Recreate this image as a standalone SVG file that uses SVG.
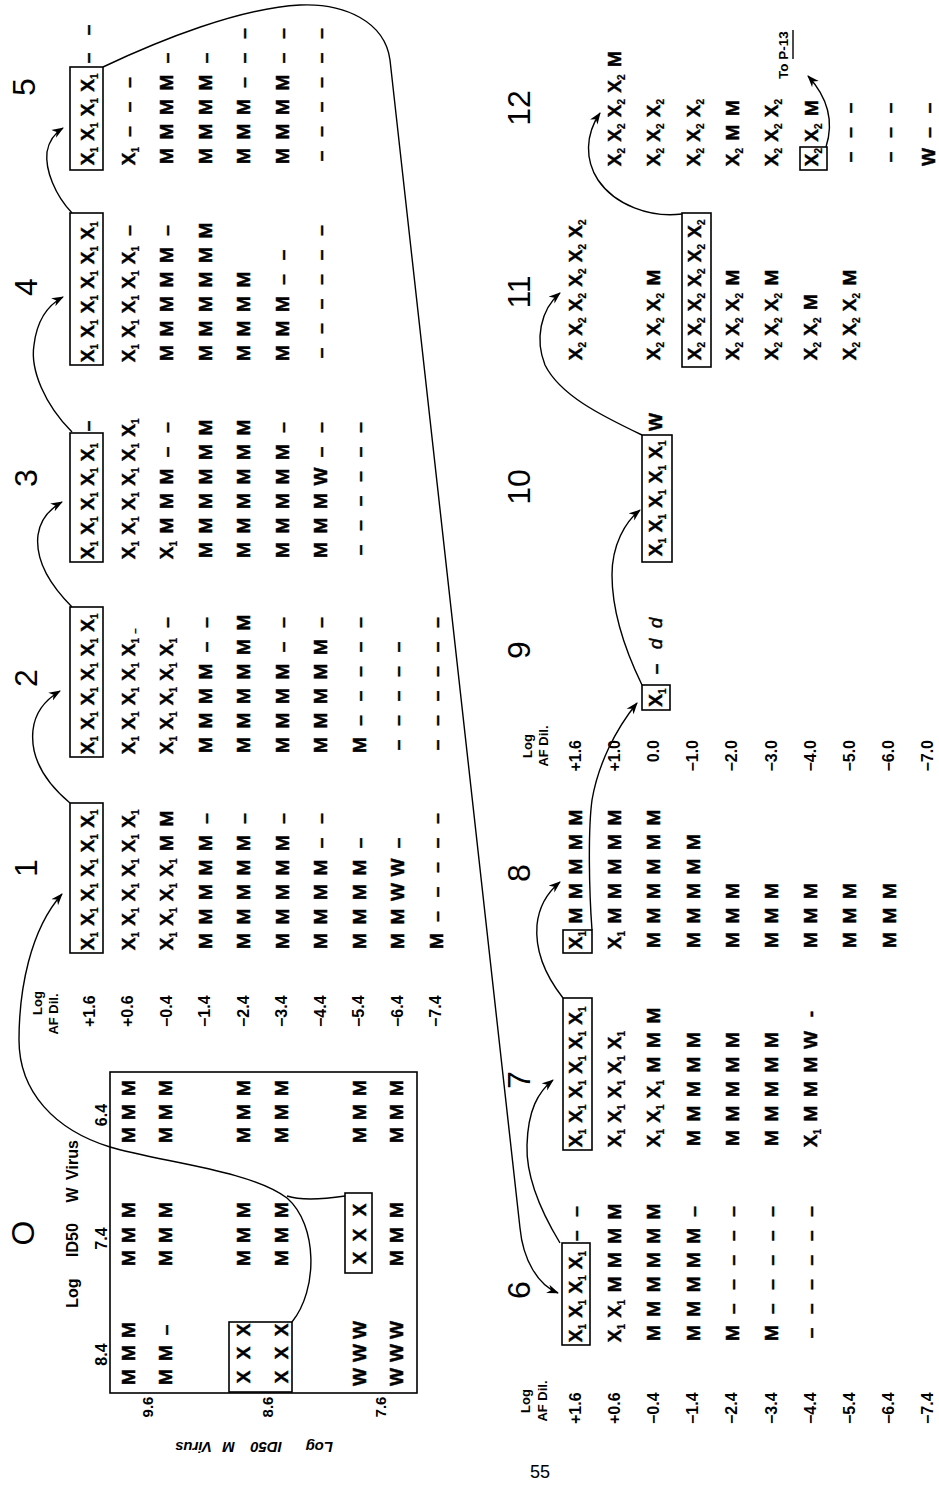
<svg xmlns="http://www.w3.org/2000/svg" width="939" height="1490" viewBox="0 0 939 1490">
<defs>
<marker id="ah" viewBox="0 0 12 10" refX="11" refY="5" markerWidth="12" markerHeight="10" markerUnits="userSpaceOnUse" orient="auto">
<path d="M0,0.5 L12,5 L0,9.5 L3.5,5 z" fill="#000"/>
</marker>
<style>
text{font-family:"Liberation Sans",Arial,sans-serif;fill:#000}
.t{font-size:19px;font-weight:bold;text-anchor:middle;stroke:#000;stroke-width:0.45}
.s{font-size:10px;baseline-shift:-4px;stroke-width:0.2}
.l{font-size:16px;font-weight:bold}
.m{font-size:13px;font-weight:bold;text-anchor:middle}
.m15{font-size:15px}
.m16{font-size:16px}
.h{font-size:32px;text-anchor:middle}
.d{font-weight:normal;font-style:italic}
.b{fill:none;stroke:#000;stroke-width:1.6}
.c{fill:none;stroke:#000;stroke-width:1.4}
.a{marker-end:url(#ah)}
</style>
</defs>
<rect width="939" height="1490" fill="#fff"/>

<!-- Passage 0 -->
<g id="p0" transform="matrix(0,-1,1,0,0,1490)">
<text class="h" x="257" y="34">O</text>
<text class="m m16" y="78"><tspan x="197">Log</tspan><tspan x="250">ID50</tspan><tspan x="295">W</tspan><tspan x="330">Virus</tspan></text>
<text class="m m16" x="135.5" y="107">8.4</text>
<text class="m m16" x="251.5" y="107">7.4</text>
<text class="m m16" x="375" y="107">6.4</text>
<rect class="b" x="97" y="110" width="321" height="307"/>
<rect class="b" x="98" y="229" width="70" height="63"/>
<rect class="b" x="217" y="345" width="80" height="27"/>
<text class="t" y="134.5"><tspan x="113">M</tspan><tspan x="137">M</tspan><tspan x="160">M</tspan><tspan x="232">M</tspan><tspan x="255">M</tspan><tspan x="280">M</tspan><tspan x="355">M</tspan><tspan x="378">M</tspan><tspan x="402">M</tspan></text>
<text class="t" y="171.5"><tspan x="113">M</tspan><tspan x="137">M</tspan><tspan x="160">–</tspan><tspan x="232">M</tspan><tspan x="255">M</tspan><tspan x="280">M</tspan><tspan x="355">M</tspan><tspan x="378">M</tspan><tspan x="402">M</tspan></text>
<text class="t" y="250"><tspan x="113">X</tspan><tspan x="137">X</tspan><tspan x="160">X</tspan><tspan x="232">M</tspan><tspan x="255">M</tspan><tspan x="280">M</tspan><tspan x="355">M</tspan><tspan x="378">M</tspan><tspan x="402">M</tspan></text>
<text class="t" y="288"><tspan x="113">X</tspan><tspan x="137">X</tspan><tspan x="160">X</tspan><tspan x="232">M</tspan><tspan x="255">M</tspan><tspan x="280">M</tspan><tspan x="355">M</tspan><tspan x="378">M</tspan><tspan x="402">M</tspan></text>
<text class="t" y="366"><tspan x="113">W</tspan><tspan x="137">W</tspan><tspan x="160">W</tspan><tspan x="232">X</tspan><tspan x="255">X</tspan><tspan x="280">X</tspan><tspan x="355">M</tspan><tspan x="378">M</tspan><tspan x="402">M</tspan></text>
<text class="t" y="403"><tspan x="113">W</tspan><tspan x="137">W</tspan><tspan x="160">W</tspan><tspan x="232">M</tspan><tspan x="255">M</tspan><tspan x="280">M</tspan><tspan x="355">M</tspan><tspan x="378">M</tspan><tspan x="402">M</tspan></text>
<text class="m m15" x="83" y="153">9.6</text>
<text class="m m15" x="83" y="273">8.6</text>
<text class="m m15" x="83" y="386">7.6</text>
<text class="m m15" style="font-style:italic;text-anchor:start" transform="translate(43,252) rotate(-90)" y="5"><tspan x="-81">Log</tspan><tspan x="-30">ID50</tspan><tspan x="17">M</tspan><tspan x="40">Virus</tspan></text>
</g>

<!-- Top dilution axis -->
<g id="axisTop" transform="matrix(0,-1,1,0,0,1490)">
<text class="m" x="487" y="42">Log</text>
<text class="m" x="476" y="58">AF Dil.</text>
<text class="l" x="463" y="94.5">+1.6</text>
<text class="l" x="463" y="133">+0.6</text>
<text class="l" x="463" y="171.5">−0.4</text>
<text class="l" x="463" y="210">−1.4</text>
<text class="l" x="463" y="248.5">−2.4</text>
<text class="l" x="463" y="287">−3.4</text>
<text class="l" x="463" y="325.5">−4.4</text>
<text class="l" x="463" y="364">−5.4</text>
<text class="l" x="463" y="402.5">−6.4</text>
<text class="l" x="463" y="441">−7.4</text>
</g>

<!-- Passage 1 -->
<g id="p1" transform="matrix(0,-1,1,0,0,1490)">
<text class="h" x="622" y="36.5">1</text>
<rect class="b" x="537" y="70" width="150" height="33"/>
<text class="t" y="94"><tspan x="549">X<tspan class="s">1</tspan></tspan><tspan x="573.5">X<tspan class="s">1</tspan></tspan><tspan x="598">X<tspan class="s">1</tspan></tspan><tspan x="622.5">X<tspan class="s">1</tspan></tspan><tspan x="647">X<tspan class="s">1</tspan></tspan><tspan x="671.5">X<tspan class="s">1</tspan></tspan></text>
<text class="t" y="134.5"><tspan x="549">X<tspan class="s">1</tspan></tspan><tspan x="573.5">X<tspan class="s">1</tspan></tspan><tspan x="598">X<tspan class="s">1</tspan></tspan><tspan x="622.5">X<tspan class="s">1</tspan></tspan><tspan x="647">X<tspan class="s">1</tspan></tspan><tspan x="671.5">X<tspan class="s">1</tspan></tspan></text>
<text class="t" y="173"><tspan x="549">X<tspan class="s">1</tspan></tspan><tspan x="573.5">X<tspan class="s">1</tspan></tspan><tspan x="598">X<tspan class="s">1</tspan></tspan><tspan x="622.5">X<tspan class="s">1</tspan></tspan><tspan x="647">M</tspan><tspan x="671.5">M</tspan></text>
<text class="t" y="211.5"><tspan x="549">M</tspan><tspan x="573.5">M</tspan><tspan x="598">M</tspan><tspan x="622.5">M</tspan><tspan x="647">M</tspan><tspan x="671.5">–</tspan></text>
<text class="t" y="250"><tspan x="549">M</tspan><tspan x="573.5">M</tspan><tspan x="598">M</tspan><tspan x="622.5">M</tspan><tspan x="647">M</tspan><tspan x="671.5">–</tspan></text>
<text class="t" y="288.5"><tspan x="549">M</tspan><tspan x="573.5">M</tspan><tspan x="598">M</tspan><tspan x="622.5">M</tspan><tspan x="647">M</tspan><tspan x="671.5">–</tspan></text>
<text class="t" y="327"><tspan x="549">M</tspan><tspan x="573.5">M</tspan><tspan x="598">M</tspan><tspan x="622.5">M</tspan><tspan x="647">–</tspan><tspan x="671.5">–</tspan></text>
<text class="t" y="365.5"><tspan x="549">M</tspan><tspan x="573.5">M</tspan><tspan x="598">M</tspan><tspan x="622.5">M</tspan><tspan x="647">–</tspan></text>
<text class="t" y="404"><tspan x="549">M</tspan><tspan x="573.5">M</tspan><tspan x="598">W</tspan><tspan x="622.5">W</tspan><tspan x="647">–</tspan></text>
<text class="t" y="442.5"><tspan x="549">M</tspan><tspan x="573.5">–</tspan><tspan x="598">–</tspan><tspan x="622.5">–</tspan><tspan x="647">–</tspan><tspan x="671.5">–</tspan></text>
</g>

<!-- Passage 2 -->
<g id="p2" transform="matrix(0,-1,1,0,0,1490)">
<text class="h" x="812" y="36.5">2</text>
<rect class="b" x="733" y="70" width="150" height="33"/>
<text class="t" y="94"><tspan x="745">X<tspan class="s">1</tspan></tspan><tspan x="769.5">X<tspan class="s">1</tspan></tspan><tspan x="794">X<tspan class="s">1</tspan></tspan><tspan x="818.5">X<tspan class="s">1</tspan></tspan><tspan x="843">X<tspan class="s">1</tspan></tspan><tspan x="867.5">X<tspan class="s">1</tspan></tspan></text>
<text class="t" y="134.5"><tspan x="745">X<tspan class="s">1</tspan></tspan><tspan x="769.5">X<tspan class="s">1</tspan></tspan><tspan x="794">X<tspan class="s">1</tspan></tspan><tspan x="818.5">X<tspan class="s">1</tspan></tspan><tspan x="843">X<tspan class="s">1</tspan></tspan><tspan x="859" class="s">–</tspan></text>
<text class="t" y="173"><tspan x="745">X<tspan class="s">1</tspan></tspan><tspan x="769.5">X<tspan class="s">1</tspan></tspan><tspan x="794">X<tspan class="s">1</tspan></tspan><tspan x="818.5">X<tspan class="s">1</tspan></tspan><tspan x="843">X<tspan class="s">1</tspan></tspan><tspan x="867.5">–</tspan></text>
<text class="t" y="211.5"><tspan x="745">M</tspan><tspan x="769.5">M</tspan><tspan x="794">M</tspan><tspan x="818.5">M</tspan><tspan x="843">–</tspan><tspan x="867.5">–</tspan></text>
<text class="t" y="250"><tspan x="745">M</tspan><tspan x="769.5">M</tspan><tspan x="794">M</tspan><tspan x="818.5">M</tspan><tspan x="843">M</tspan><tspan x="867.5">M</tspan></text>
<text class="t" y="288.5"><tspan x="745">M</tspan><tspan x="769.5">M</tspan><tspan x="794">M</tspan><tspan x="818.5">M</tspan><tspan x="843">–</tspan><tspan x="867.5">–</tspan></text>
<text class="t" y="327"><tspan x="745">M</tspan><tspan x="769.5">M</tspan><tspan x="794">M</tspan><tspan x="818.5">M</tspan><tspan x="843">M</tspan><tspan x="867.5">–</tspan></text>
<text class="t" y="365.5"><tspan x="745">M</tspan><tspan x="769.5">–</tspan><tspan x="794">–</tspan><tspan x="818.5">–</tspan><tspan x="843">–</tspan><tspan x="867.5">–</tspan></text>
<text class="t" y="404"><tspan x="745">–</tspan><tspan x="769.5">–</tspan><tspan x="794">–</tspan><tspan x="818.5">–</tspan><tspan x="843">–</tspan></text>
<text class="t" y="442.5"><tspan x="745">–</tspan><tspan x="769.5">–</tspan><tspan x="794">–</tspan><tspan x="818.5">–</tspan><tspan x="843">–</tspan><tspan x="867.5">–</tspan></text>
</g>

<!-- Passage 3 -->
<g id="p3" transform="matrix(0,-1,1,0,0,1490)">
<text class="h" x="1012" y="36.5">3</text>
<rect class="b" x="928" y="70" width="129" height="33"/>
<text class="t" y="94"><tspan x="940">X<tspan class="s">1</tspan></tspan><tspan x="964.5">X<tspan class="s">1</tspan></tspan><tspan x="989">X<tspan class="s">1</tspan></tspan><tspan x="1013.5">X<tspan class="s">1</tspan></tspan><tspan x="1038">X<tspan class="s">1</tspan></tspan><tspan x="1064">–</tspan></text>
<text class="t" y="134.5"><tspan x="940">X<tspan class="s">1</tspan></tspan><tspan x="964.5">X<tspan class="s">1</tspan></tspan><tspan x="989">X<tspan class="s">1</tspan></tspan><tspan x="1013.5">X<tspan class="s">1</tspan></tspan><tspan x="1038">X<tspan class="s">1</tspan></tspan><tspan x="1062.5">X<tspan class="s">1</tspan></tspan></text>
<text class="t" y="173"><tspan x="940">X<tspan class="s">1</tspan></tspan><tspan x="964.5">M</tspan><tspan x="989">M</tspan><tspan x="1013.5">M</tspan><tspan x="1038">–</tspan><tspan x="1062.5">–</tspan></text>
<text class="t" y="211.5"><tspan x="940">M</tspan><tspan x="964.5">M</tspan><tspan x="989">M</tspan><tspan x="1013.5">M</tspan><tspan x="1038">M</tspan><tspan x="1062.5">M</tspan></text>
<text class="t" y="250"><tspan x="940">M</tspan><tspan x="964.5">M</tspan><tspan x="989">M</tspan><tspan x="1013.5">M</tspan><tspan x="1038">M</tspan><tspan x="1062.5">M</tspan></text>
<text class="t" y="288.5"><tspan x="940">M</tspan><tspan x="964.5">M</tspan><tspan x="989">M</tspan><tspan x="1013.5">M</tspan><tspan x="1038">M</tspan><tspan x="1062.5">–</tspan></text>
<text class="t" y="327"><tspan x="940">M</tspan><tspan x="964.5">M</tspan><tspan x="989">M</tspan><tspan x="1013.5">W</tspan><tspan x="1038">–</tspan><tspan x="1062.5">–</tspan></text>
<text class="t" y="365.5"><tspan x="940">–</tspan><tspan x="964.5">–</tspan><tspan x="989">–</tspan><tspan x="1013.5">–</tspan><tspan x="1038">–</tspan><tspan x="1062.5">–</tspan></text>
</g>

<!-- Passage 4 -->
<g id="p4" transform="matrix(0,-1,1,0,0,1490)">
<text class="h" x="1203" y="36.5">4</text>
<rect class="b" x="1125" y="70" width="152" height="33"/>
<text class="t" y="94"><tspan x="1137">X<tspan class="s">1</tspan></tspan><tspan x="1161.5">X<tspan class="s">1</tspan></tspan><tspan x="1186">X<tspan class="s">1</tspan></tspan><tspan x="1210.5">X<tspan class="s">1</tspan></tspan><tspan x="1235">X<tspan class="s">1</tspan></tspan><tspan x="1259.5">X<tspan class="s">1</tspan></tspan></text>
<text class="t" y="134.5"><tspan x="1137">X<tspan class="s">1</tspan></tspan><tspan x="1161.5">X<tspan class="s">1</tspan></tspan><tspan x="1186">X<tspan class="s">1</tspan></tspan><tspan x="1210.5">X<tspan class="s">1</tspan></tspan><tspan x="1235">X<tspan class="s">1</tspan></tspan><tspan x="1259.5">–</tspan></text>
<text class="t" y="173"><tspan x="1137">M</tspan><tspan x="1161.5">M</tspan><tspan x="1186">M</tspan><tspan x="1210.5">M</tspan><tspan x="1235">M</tspan><tspan x="1259.5">–</tspan></text>
<text class="t" y="211.5"><tspan x="1137">M</tspan><tspan x="1161.5">M</tspan><tspan x="1186">M</tspan><tspan x="1210.5">M</tspan><tspan x="1235">M</tspan><tspan x="1259.5">M</tspan></text>
<text class="t" y="250"><tspan x="1137">M</tspan><tspan x="1161.5">M</tspan><tspan x="1186">M</tspan><tspan x="1210.5">M</tspan></text>
<text class="t" y="288.5"><tspan x="1137">M</tspan><tspan x="1161.5">M</tspan><tspan x="1186">M</tspan><tspan x="1210.5">–</tspan><tspan x="1235">–</tspan></text>
<text class="t" y="327"><tspan x="1137">–</tspan><tspan x="1161.5">–</tspan><tspan x="1186">–</tspan><tspan x="1210.5">–</tspan><tspan x="1235">–</tspan><tspan x="1259.5">–</tspan></text>
</g>

<!-- Passage 5 -->
<g id="p5" transform="matrix(0,-1,1,0,0,1490)">
<text class="h" x="1403" y="35">5</text>
<rect class="b" x="1320" y="70" width="103" height="33"/>
<text class="t" y="94"><tspan x="1334">X<tspan class="s">1</tspan></tspan><tspan x="1358.5">X<tspan class="s">1</tspan></tspan><tspan x="1383">X<tspan class="s">1</tspan></tspan><tspan x="1407.5">X<tspan class="s">1</tspan></tspan><tspan x="1432">–</tspan><tspan x="1460">–</tspan></text>
<text class="t" y="134.5"><tspan x="1334">X<tspan class="s">1</tspan></tspan><tspan x="1358.5">–</tspan><tspan x="1383">–</tspan><tspan x="1407.5">–</tspan></text>
<text class="t" y="173"><tspan x="1334">M</tspan><tspan x="1358.5">M</tspan><tspan x="1383">M</tspan><tspan x="1407.5">M</tspan><tspan x="1432">–</tspan></text>
<text class="t" y="211.5"><tspan x="1334">M</tspan><tspan x="1358.5">M</tspan><tspan x="1383">M</tspan><tspan x="1407.5">M</tspan><tspan x="1432">–</tspan></text>
<text class="t" y="250"><tspan x="1334">M</tspan><tspan x="1358.5">M</tspan><tspan x="1383">M</tspan><tspan x="1407.5">–</tspan><tspan x="1432">–</tspan><tspan x="1456.5">–</tspan></text>
<text class="t" y="288.5"><tspan x="1334">M</tspan><tspan x="1358.5">M</tspan><tspan x="1383">M</tspan><tspan x="1407.5">M</tspan><tspan x="1432">–</tspan><tspan x="1456.5">–</tspan></text>
<text class="t" y="327"><tspan x="1334">–</tspan><tspan x="1358.5">–</tspan><tspan x="1383">–</tspan><tspan x="1407.5">–</tspan><tspan x="1432">–</tspan><tspan x="1456.5">–</tspan></text>
</g>

<!-- Bottom-left dilution axis -->
<g id="axisBottomLeft" transform="matrix(0,-1,1,0,0,1490)">
<text class="m" x="89" y="530">Log</text>
<text class="m" x="89" y="547">AF Dil.</text>
<text class="l" x="66" y="580.5">+1.6</text>
<text class="l" x="66" y="619.7">+0.6</text>
<text class="l" x="66" y="658.9">−0.4</text>
<text class="l" x="66" y="698.1">−1.4</text>
<text class="l" x="66" y="737.3">−2.4</text>
<text class="l" x="66" y="776.5">−3.4</text>
<text class="l" x="66" y="815.7">−4.4</text>
<text class="l" x="66" y="854.9">−5.4</text>
<text class="l" x="66" y="894.1">−6.4</text>
<text class="l" x="66" y="933.3">−7.4</text>
</g>

<!-- Passage 6 -->
<g id="p6" transform="matrix(0,-1,1,0,0,1490)">
<text class="h" x="200" y="529.5">6</text>
<rect class="b" x="145" y="562" width="102" height="28"/>
<text class="t" y="582"><tspan x="157">X<tspan class="s">1</tspan></tspan><tspan x="181.3">X<tspan class="s">1</tspan></tspan><tspan x="205.6">X<tspan class="s">1</tspan></tspan><tspan x="229.9">X<tspan class="s">1</tspan></tspan><tspan x="254.2">–</tspan><tspan x="278.5">–</tspan></text>
<text class="t" y="621.2"><tspan x="157">X<tspan class="s">1</tspan></tspan><tspan x="181.3">X<tspan class="s">1</tspan></tspan><tspan x="205.6">M</tspan><tspan x="229.9">M</tspan><tspan x="254.2">M</tspan><tspan x="278.5">M</tspan></text>
<text class="t" y="660.4"><tspan x="157">M</tspan><tspan x="181.3">M</tspan><tspan x="205.6">M</tspan><tspan x="229.9">M</tspan><tspan x="254.2">M</tspan><tspan x="278.5">M</tspan></text>
<text class="t" y="699.6"><tspan x="157">M</tspan><tspan x="181.3">M</tspan><tspan x="205.6">M</tspan><tspan x="229.9">M</tspan><tspan x="254.2">M</tspan><tspan x="278.5">–</tspan></text>
<text class="t" y="738.8"><tspan x="157">M</tspan><tspan x="181.3">–</tspan><tspan x="205.6">–</tspan><tspan x="229.9">–</tspan><tspan x="254.2">–</tspan><tspan x="278.5">–</tspan></text>
<text class="t" y="778"><tspan x="157">M</tspan><tspan x="181.3">–</tspan><tspan x="205.6">–</tspan><tspan x="229.9">–</tspan><tspan x="254.2">–</tspan><tspan x="278.5">–</tspan></text>
<text class="t" y="817.2"><tspan x="157">–</tspan><tspan x="181.3">–</tspan><tspan x="205.6">–</tspan><tspan x="229.9">–</tspan><tspan x="254.2">–</tspan><tspan x="278.5">–</tspan></text>
</g>

<!-- Passage 7 -->
<g id="p7" transform="matrix(0,-1,1,0,0,1490)">
<text class="h" x="410" y="529.5">7</text>
<rect class="b" x="340" y="563" width="152" height="29"/>
<text class="t" y="582"><tspan x="352">X<tspan class="s">1</tspan></tspan><tspan x="376.5">X<tspan class="s">1</tspan></tspan><tspan x="401">X<tspan class="s">1</tspan></tspan><tspan x="425.5">X<tspan class="s">1</tspan></tspan><tspan x="450">X<tspan class="s">1</tspan></tspan><tspan x="474.5">X<tspan class="s">1</tspan></tspan></text>
<text class="t" y="621.2"><tspan x="352">X<tspan class="s">1</tspan></tspan><tspan x="376.5">X<tspan class="s">1</tspan></tspan><tspan x="401">X<tspan class="s">1</tspan></tspan><tspan x="425.5">X<tspan class="s">1</tspan></tspan><tspan x="450">X<tspan class="s">1</tspan></tspan></text>
<text class="t" y="660.4"><tspan x="352">X<tspan class="s">1</tspan></tspan><tspan x="376.5">X<tspan class="s">1</tspan></tspan><tspan x="401">X<tspan class="s">1</tspan></tspan><tspan x="425.5">M</tspan><tspan x="450">M</tspan><tspan x="474.5">M</tspan></text>
<text class="t" y="699.6"><tspan x="352">M</tspan><tspan x="376.5">M</tspan><tspan x="401">M</tspan><tspan x="425.5">M</tspan><tspan x="450">M</tspan></text>
<text class="t" y="738.8"><tspan x="352">M</tspan><tspan x="376.5">M</tspan><tspan x="401">M</tspan><tspan x="425.5">M</tspan><tspan x="450">M</tspan></text>
<text class="t" y="778"><tspan x="352">M</tspan><tspan x="376.5">M</tspan><tspan x="401">M</tspan><tspan x="425.5">M</tspan><tspan x="450">M</tspan></text>
<text class="t" y="817.2"><tspan x="352">X<tspan class="s">1</tspan></tspan><tspan x="376.5">M</tspan><tspan x="401">M</tspan><tspan x="425.5">M</tspan><tspan x="450">W</tspan><tspan x="476">-</tspan></text>
</g>

<!-- Passage 8 -->
<g id="p8" transform="matrix(0,-1,1,0,0,1490)">
<text class="h" x="617" y="529.5">8</text>
<rect class="b" x="537" y="563" width="23" height="29"/>
<text class="t" y="582"><tspan x="550">X<tspan class="s">1</tspan></tspan><tspan x="574.5">M</tspan><tspan x="599">M</tspan><tspan x="623.5">M</tspan><tspan x="648">M</tspan><tspan x="672.5">M</tspan></text>
<text class="t" y="621.2"><tspan x="550">X<tspan class="s">1</tspan></tspan><tspan x="574.5">M</tspan><tspan x="599">M</tspan><tspan x="623.5">M</tspan><tspan x="648">M</tspan><tspan x="672.5">M</tspan></text>
<text class="t" y="660.4"><tspan x="550">M</tspan><tspan x="574.5">M</tspan><tspan x="599">M</tspan><tspan x="623.5">M</tspan><tspan x="648">M</tspan><tspan x="672.5">M</tspan></text>
<text class="t" y="699.6"><tspan x="550">M</tspan><tspan x="574.5">M</tspan><tspan x="599">M</tspan><tspan x="623.5">M</tspan><tspan x="648">M</tspan></text>
<text class="t" y="738.8"><tspan x="550">M</tspan><tspan x="574.5">M</tspan><tspan x="599">M</tspan></text>
<text class="t" y="778"><tspan x="550">M</tspan><tspan x="574.5">M</tspan><tspan x="599">M</tspan></text>
<text class="t" y="817.2"><tspan x="550">M</tspan><tspan x="574.5">M</tspan><tspan x="599">M</tspan></text>
<text class="t" y="856.4"><tspan x="550">M</tspan><tspan x="574.5">M</tspan><tspan x="599">M</tspan></text>
<text class="t" y="895.6"><tspan x="550">M</tspan><tspan x="574.5">M</tspan><tspan x="599">M</tspan></text>
</g>

<!-- Middle dilution axis -->
<g id="axisMiddle" transform="matrix(0,-1,1,0,0,1490)">
<text class="m" x="744" y="532">Log</text>
<text class="m" x="744" y="548">AF Dil.</text>
<text class="l" x="750" y="580.5" text-anchor="end">+1.6</text>
<text class="l" x="750" y="619.7" text-anchor="end">+1.0</text>
<text class="l" x="750" y="658.9" text-anchor="end">0.0</text>
<text class="l" x="750" y="698.1" text-anchor="end">−1.0</text>
<text class="l" x="750" y="737.3" text-anchor="end">−2.0</text>
<text class="l" x="750" y="776.5" text-anchor="end">−3.0</text>
<text class="l" x="750" y="815.7" text-anchor="end">−4.0</text>
<text class="l" x="750" y="854.9" text-anchor="end">−5.0</text>
<text class="l" x="750" y="894.1" text-anchor="end">−6.0</text>
<text class="l" x="750" y="933.3" text-anchor="end">−7.0</text>
</g>

<!-- Passage 9 -->
<g id="p9" transform="matrix(0,-1,1,0,0,1490)">
<text class="h" x="840" y="529.5">9</text>
<rect class="b" x="780" y="642" width="25" height="28"/>
<text class="t" y="662"><tspan x="792.5">X<tspan class="s">1</tspan></tspan><tspan x="821">–</tspan><tspan x="846" class="d">d</tspan><tspan x="867" class="d">d</tspan></text>
</g>

<!-- Passage 10 -->
<g id="p10" transform="matrix(0,-1,1,0,0,1490)">
<text class="h" x="1003" y="529.5">10</text>
<rect class="b" x="928" y="642" width="127" height="30"/>
<text class="t" y="662"><tspan x="943">X<tspan class="s">1</tspan></tspan><tspan x="967">X<tspan class="s">1</tspan></tspan><tspan x="991.5">X<tspan class="s">1</tspan></tspan><tspan x="1016">X<tspan class="s">1</tspan></tspan><tspan x="1040.5">X<tspan class="s">1</tspan></tspan><tspan x="1068">W</tspan></text>
</g>

<!-- Passage 11 -->
<g id="p11" transform="matrix(0,-1,1,0,0,1490)">
<text class="h" x="1198" y="529.5">11</text>
<rect class="b" x="1123" y="682" width="154" height="29"/>
<text class="t" y="582"><tspan x="1139">X<tspan class="s">2</tspan></tspan><tspan x="1163.5">X<tspan class="s">2</tspan></tspan><tspan x="1188">X<tspan class="s">2</tspan></tspan><tspan x="1212.5">X<tspan class="s">2</tspan></tspan><tspan x="1237">X<tspan class="s">2</tspan></tspan><tspan x="1261.5">X<tspan class="s">2</tspan></tspan></text>
<text class="t" y="660.4"><tspan x="1139">X<tspan class="s">2</tspan></tspan><tspan x="1163.5">X<tspan class="s">2</tspan></tspan><tspan x="1188">X<tspan class="s">2</tspan></tspan><tspan x="1212.5">M</tspan></text>
<text class="t" y="701"><tspan x="1139">X<tspan class="s">2</tspan></tspan><tspan x="1163.5">X<tspan class="s">2</tspan></tspan><tspan x="1188">X<tspan class="s">2</tspan></tspan><tspan x="1212.5">X<tspan class="s">2</tspan></tspan><tspan x="1237">X<tspan class="s">2</tspan></tspan><tspan x="1261.5">X<tspan class="s">2</tspan></tspan></text>
<text class="t" y="738.8"><tspan x="1139">X<tspan class="s">2</tspan></tspan><tspan x="1163.5">X<tspan class="s">2</tspan></tspan><tspan x="1188">X<tspan class="s">2</tspan></tspan><tspan x="1212.5">M</tspan></text>
<text class="t" y="778"><tspan x="1139">X<tspan class="s">2</tspan></tspan><tspan x="1163.5">X<tspan class="s">2</tspan></tspan><tspan x="1188">X<tspan class="s">2</tspan></tspan><tspan x="1212.5">M</tspan></text>
<text class="t" y="817.2"><tspan x="1139">X<tspan class="s">2</tspan></tspan><tspan x="1163.5">X<tspan class="s">2</tspan></tspan><tspan x="1188">M</tspan></text>
<text class="t" y="856.4"><tspan x="1139">X<tspan class="s">2</tspan></tspan><tspan x="1163.5">X<tspan class="s">2</tspan></tspan><tspan x="1188">X<tspan class="s">2</tspan></tspan><tspan x="1212.5">M</tspan></text>
</g>

<!-- Passage 12 -->
<g id="p12" transform="matrix(0,-1,1,0,0,1490)">
<text class="h" x="1382" y="529.5">12</text>
<rect class="b" x="1320" y="800" width="23" height="27"/>
<text class="t" y="621.2"><tspan x="1333">X<tspan class="s">2</tspan></tspan><tspan x="1357.5">X<tspan class="s">2</tspan></tspan><tspan x="1382">X<tspan class="s">2</tspan></tspan><tspan x="1406.5">X<tspan class="s">2</tspan></tspan><tspan x="1431">M</tspan></text>
<text class="t" y="660.4"><tspan x="1333">X<tspan class="s">2</tspan></tspan><tspan x="1357.5">X<tspan class="s">2</tspan></tspan><tspan x="1382">X<tspan class="s">2</tspan></tspan></text>
<text class="t" y="699.6"><tspan x="1333">X<tspan class="s">2</tspan></tspan><tspan x="1357.5">X<tspan class="s">2</tspan></tspan><tspan x="1382">X<tspan class="s">2</tspan></tspan></text>
<text class="t" y="738.8"><tspan x="1333">X<tspan class="s">2</tspan></tspan><tspan x="1357.5">M</tspan><tspan x="1382">M</tspan></text>
<text class="t" y="778"><tspan x="1333">X<tspan class="s">2</tspan></tspan><tspan x="1357.5">X<tspan class="s">2</tspan></tspan><tspan x="1382">X<tspan class="s">2</tspan></tspan></text>
<text class="m" x="1411" y="788" style="font-size:13.5px;text-anchor:start">To P-13</text>
<line x1="1431" y1="793" x2="1460" y2="793" stroke="#000" stroke-width="1.4"/>
<text class="t" y="818"><tspan x="1333">X<tspan class="s">2</tspan></tspan><tspan x="1357.5">X<tspan class="s">2</tspan></tspan><tspan x="1382">M</tspan></text>
<text class="t" y="856.4"><tspan x="1333">–</tspan><tspan x="1357.5">–</tspan><tspan x="1382">–</tspan></text>
<text class="t" y="895.6"><tspan x="1333">–</tspan><tspan x="1357.5">–</tspan><tspan x="1382">–</tspan></text>
<text class="t" y="934.8"><tspan x="1333">W</tspan><tspan x="1357.5">–</tspan><tspan x="1382">–</tspan></text>
</g>

<!-- Connectors (screen coordinates) -->
<g id="connectors">
<path class="c a" d="M292,1322 C318,1290 318,1225 287,1198 C250,1170 160,1162 110,1147 C55,1130 19,1092 19,1040 C19,990 30,930 62,894"/>
<path class="c" d="M345,1196 C325,1199 302,1201 287,1196"/>
<path class="c a" d="M70,803 C45,782 30,758 33,730 C35,712 45,700 60,691"/>
<path class="c a" d="M72,607 C50,585 35,560 38,535 C40,520 48,510 62,502"/>
<path class="c a" d="M72,432 C45,405 30,370 34,345 C37,320 48,305 63,297"/>
<path class="c a" d="M72,213 C55,195 45,170 47,152 C49,140 55,133 63,128"/>
<path class="c a" d="M103,67 C160,40 240,8 300,5 C345,3 385,22 390,60 L520,1228 C523,1260 538,1285 558,1293"/>
<path class="c a" d="M560,1243 C540,1210 526,1175 527,1145 C528,1110 538,1092 553,1080"/>
<path class="c a" d="M563,998 C545,975 535,950 537,925 C539,905 548,892 560,882"/>
<path class="c a" d="M592,930 C589,890 588,830 592,800 C598,765 615,730 637,703"/>
<path class="c a" d="M642,685 C625,650 612,610 612,575 C612,545 625,522 640,510"/>
<path class="c a" d="M642,435 C600,415 560,395 545,365 C535,340 540,310 560,293"/>
<path class="c a" d="M682,214 C650,218 615,205 598,180 C585,160 585,135 600,113"/>
<path class="c a" d="M826,147 C833,125 830,100 808,76"/>
</g>

<text x="540" y="1478" font-family="'Liberation Serif',serif" font-size="18" text-anchor="middle">55</text>
</svg>
